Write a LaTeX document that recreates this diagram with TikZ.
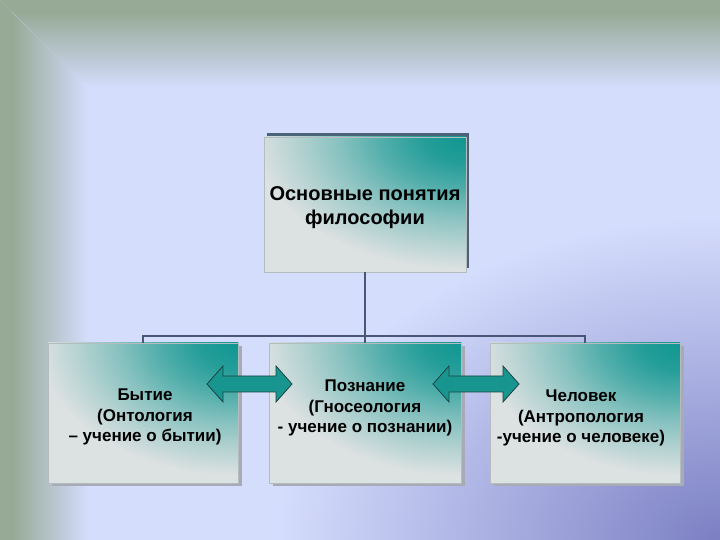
\documentclass[tikz,border=0pt]{standalone}
\usepackage{fontspec}
\setmainfont{Liberation Sans}
\usetikzlibrary{fadings,shadows}
\definecolor{lav}{HTML}{D5DDFD}
\definecolor{framec}{HTML}{96AA96}
\definecolor{cornerc}{HTML}{7C80C4}
\definecolor{tealc}{HTML}{109691}
\definecolor{boxbase}{HTML}{DCE1E1}
\definecolor{boxedge}{HTML}{B4BCC0}
\definecolor{connc}{HTML}{4A5676}
\definecolor{topshadow}{HTML}{4C6276}
\definecolor{botshadow}{HTML}{A6ABB6}
\definecolor{arrowfill}{HTML}{18958F}
\definecolor{arrowline}{HTML}{1C4444}
\colorlet{t90}{tealc!90!boxbase}
\colorlet{t65}{tealc!68!boxbase}
\colorlet{t40}{tealc!42!boxbase}
\colorlet{t18}{tealc!20!boxbase}
\tikzfading[name=fadetop, top color=transparent!0, bottom color=transparent!100]
\tikzfading[name=fadeleft, left color=transparent!0, right color=transparent!100]
\tikzfading[name=radfade, inner color=transparent!0, outer color=transparent!100]
\pgfdeclareradialshading{tealcorner}{\pgfpointorigin}{%
  color(0bp)=(tealc); color(4.4bp)=(t90); color(8.8bp)=(t65);
  color(13.2bp)=(t40); color(17.6bp)=(t18); color(22bp)=(boxbase);
  color(50bp)=(boxbase)}
\begin{document}
\begin{tikzpicture}[x=1pt,y=1pt,
  cardbox/.style={inner sep=0pt, fill=boxbase, draw=boxedge, line width=0.5pt,
    path picture={\shade[shading=tealcorner] (path picture bounding box.north east) ellipse [x radius=#1, y radius=150pt];}},
  topbox/.style={cardbox=240pt, minimum width=202pt, minimum height=135pt,
    drop shadow={shadow xshift=3pt, shadow yshift=4pt, fill=topshadow, opacity=1}},
  botbox/.style={cardbox=225pt, minimum height=140pt,
    drop shadow={shadow xshift=4pt, shadow yshift=-3pt, fill=botshadow, opacity=1}},
  toptext/.style={align=center, font=\bfseries\fontsize{20}{24}\selectfont},
  bottext/.style={align=center, font=\bfseries\fontsize{17}{20.5}\selectfont},
  connector/.style={draw=connc, line width=2pt},
  blockarrow/.style={fill=arrowfill, draw=arrowline, line width=0.8pt, line join=miter}
]
\useasboundingbox (0,0) rectangle (720,540);
% background
\begin{scope}
\clip (0,0) rectangle (720,540);
\fill[lav] (0,0) rectangle (720,540);
\fill[cornerc, path fading=radfade] (720,0) ellipse [x radius=440, y radius=320];
\fill[framec] (0,540) -- (720,540) -- (720,528) -- (12,528) -- cycle;
\fill[framec] (0,540) -- (12,528) -- (12,0) -- (0,0) -- cycle;
\fill[framec, path fading=fadetop] (12,528) -- (720,528) -- (720,452) -- (88,452) -- cycle;
\fill[framec, path fading=fadeleft] (12,528) -- (88,452) -- (88,0) -- (12,0) -- cycle;
\end{scope}
% boxes
\node[topbox] (top) at (365,335.5) {};
\node[toptext] (topText) at ([yshift=-3pt]top.center) {Основные понятия\\философии};
\node[botbox, minimum width=190pt] (onto) at (143,127) {};
\node[bottext] (ontoText) at ([xshift=2pt,yshift=-4pt]onto.center) {Бытие\\(Онтология\\– учение о бытии)};
\node[botbox, minimum width=192pt] (gno) at (365,127) {};
\node[bottext] (gnoText) at ([yshift=5pt]gno.center) {Познание\\(Гносеология\\- учение о познании)};
\node[botbox, minimum width=190pt] (anthro) at (585,127) {};
\node[bottext] (anthroText) at ([xshift=-4pt,yshift=-5pt]anthro.center) {Человек\\(Антропология\\-учение о человеке)};
% connectors
\coordinate (bus) at (365,204);
\draw[connector] (top.south) -- (bus);
\draw[connector] (bus) -| (onto.north);
\draw[connector] (bus) -| (anthro.north);
\draw[connector] (bus) -- (gno.north);
% double arrows
\draw[blockarrow] (207,156) -- (223,174) -- (223,164) -- (276,164) -- (276,174) -- (292,156)
  -- (276,138) -- (276,148) -- (223,148) -- (223,138) -- cycle;
\draw[blockarrow] (433,156) -- (449,174) -- (449,164) -- (503,164) -- (503,174) -- (519,156)
  -- (503,138) -- (503,148) -- (449,148) -- (449,138) -- cycle;
\end{tikzpicture}
\end{document}
